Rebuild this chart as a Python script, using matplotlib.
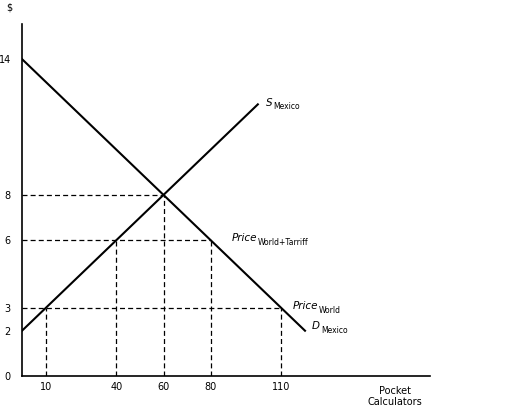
import matplotlib
matplotlib.use("Agg")
import matplotlib.pyplot as plt
import numpy as np

supply_q = [0, 100]
supply_p = [2, 12]
demand_q = [0, 120]
demand_p = [14, 2]
xticks = [10, 40, 60, 80, 110]
yticks = [0, 2, 3, 6, 8, 14]
# dashed guide points (q, p)
guides = [(10, 3), (40, 6), (60, 8), (80, 6), (110, 3)]

fig = plt.figure(figsize=(5.23, 4.15), dpi=100)
ax = fig.add_axes([22/523, 39/415, 408/523, 352/415])
ax.set_xlim(0, 173)
ax.set_ylim(0, 15.55)
for s in ['top', 'right']:
    ax.spines[s].set_visible(False)
ax.spines['left'].set_linewidth(1.2)
ax.spines['bottom'].set_linewidth(1.2)

ax.plot(supply_q, supply_p, color='black', lw=1.5)
ax.plot(demand_q, demand_p, color='black', lw=1.5)

dash = dict(color='black', lw=0.9, ls=(0, (4, 2.5)))
for q, p in guides:
    ax.plot([q, q], [0, p], **dash)
for p, qmax in [(8, 60), (6, 80), (3, 110)]:
    ax.plot([0, qmax], [p, p], **dash)

ax.set_xticks(xticks)
ax.set_xticklabels([str(v) for v in xticks], fontsize=7)
ax.set_yticks(yticks)
ax.set_yticklabels([str(v) for v in yticks], fontsize=7)
ax.tick_params(length=0, pad=4)
ax.tick_params(axis='y', pad=8)

fs = 7.5
ax.text(103, 12.1, r'$S$', fontsize=fs, ha='left', va='center')
ax.text(106.5, 11.9, 'Mexico', fontsize=5.5, ha='left', va='center')
ax.text(89, 6.1, 'Price', fontsize=fs, style='italic', ha='left', va='center')
ax.text(100, 5.9, 'World+Tarriff', fontsize=5.5, ha='left', va='center')
ax.text(115, 3.1, 'Price', fontsize=fs, style='italic', ha='left', va='center')
ax.text(126, 2.9, 'World', fontsize=5.5, ha='left', va='center')
ax.text(123, 2.2, 'D', fontsize=fs, style='italic', ha='left', va='center')
ax.text(127, 2.0, 'Mexico', fontsize=5.5, ha='left', va='center')
ax.text(158, -0.9, 'Pocket\nCalculators', fontsize=7, ha='center', va='center', linespacing=1.1)
fig.text(9/523, 1-8/415, '$', fontsize=7, ha='center', va='center')

fig.savefig('out.png', dpi=100)
